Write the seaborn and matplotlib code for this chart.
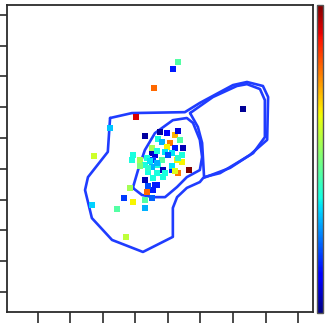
import numpy as np
import pandas as pd
import matplotlib
matplotlib.use("Agg")
import matplotlib.pyplot as plt
import seaborn as sns

# scatter points: x, y and colour value (0..1 on the jet scale)
pt_x = [4.31, 4.15, 3.57, 6.31, 3.02, 2.22, 1.72, 1.66, 2.65, 2.92, 2.43, 2.71,
        3.29, 3.29, 3.51, 2.83, 3.35, 3.54, 3.29, 3.38, 3.60, 4.65, 3.29, 3.75,
        3.97, 4.22, 4.31, 3.69, 3.82, 4.06, 4.37, 4.46, 3.97, 4.22, 3.51, 3.60,
        3.91, 4.12, 4.43, 2.92, 3.14, 3.35, 3.54, 3.82, 4.28, 4.43, 3.29, 3.51,
        3.69, 3.85, 4.12, 4.31, 3.38, 3.66, 3.54, 3.85,
        3.51, 3.66, 4.00, 4.31, 2.89, 3.45, 3.66, 3.14, 3.38, 4.12, 3.91, 4.22,
        3.66]
pt_y = [7.47, 7.24, 6.62, 5.94, 5.68, 5.32, 4.42, 2.82, 3.05, 2.92, 2.69, 1.79,
        2.73, 2.99, 3.05, 3.38, 3.25, 3.31, 3.64, 3.44, 3.47, 3.96, 5.06, 5.19,
        5.16, 5.10, 5.23, 4.97, 4.87, 4.84, 4.94, 4.68, 4.71, 4.68, 4.51, 4.45,
        4.55, 4.51, 4.45, 4.45, 4.29, 4.35, 4.29, 4.29, 4.29, 4.22, 4.12, 4.06,
        4.12, 3.96, 3.96, 3.86, 3.90, 3.86, 3.70, 3.73,
        4.68, 4.58, 4.45, 4.35, 4.29, 4.25, 4.19, 4.09, 4.03, 4.09, 3.86, 3.93,
        3.47]
pt_c = [0.45, 0.15, 0.80, 0.02, 0.92, 0.32, 0.60, 0.33, 0.18, 0.65, 0.45, 0.58,
        0.30, 0.45, 0.22, 0.55, 0.80, 0.15, 0.05, 0.20, 0.15, 1.00, 0.03, 0.03,
        0.12, 0.72, 0.08, 0.38, 0.30, 0.78, 0.45, 0.05, 0.65, 0.15, 0.05, 0.08,
        0.35, 0.35, 0.38, 0.38, 0.55, 0.38, 0.18, 0.45, 0.65, 0.65, 0.38, 0.30,
        0.38, 0.05, 0.15, 0.78, 0.38, 0.38, 0.38, 0.38,
        0.55, 0.38, 0.20, 0.40, 0.38, 0.35, 0.30, 0.50, 0.40, 0.35, 0.38, 0.62,
        0.15]

# density contour outlines
outer_x = [2.22, 2.89, 4.52, 4.98, 6.00, 6.43, 6.92, 7.08, 7.05, 6.52, 5.91, 5.08,
           4.98, 4.58, 4.28, 4.15, 4.15, 3.23, 2.28, 1.66, 1.45, 1.54, 2.15, 2.22]
outer_y = [5.65, 5.81, 5.84, 6.14, 6.72, 6.82, 6.69, 6.33, 4.94, 4.45, 4.03, 3.70,
           3.57, 3.38, 3.08, 2.73, 1.79, 1.30, 1.69, 2.40, 3.31, 3.73, 4.55, 5.65]
core_x = [2.92, 3.08, 3.29, 3.60, 4.15, 4.58, 4.77, 4.98, 5.05, 4.98, 4.58, 4.28,
          3.91, 3.54, 3.20, 2.92]
core_y = [3.38, 3.96, 4.61, 5.16, 5.58, 5.65, 5.49, 4.94, 4.38, 3.96, 3.73, 3.41,
          3.08, 3.08, 3.15, 3.38]
lobe_x = [4.68, 4.92, 5.05, 5.08, 5.11, 5.60, 6.12, 6.62, 6.98, 6.98, 6.83, 6.43,
          6.12, 5.38, 4.68]
lobe_y = [5.81, 5.36, 4.84, 4.29, 3.73, 3.86, 4.19, 4.51, 5.03, 6.23, 6.59, 6.75,
          6.69, 6.33, 5.81]

sns.set_style("ticks")
plt.rcParams.update({
    "axes.edgecolor": "#2b2b2b",
    "axes.linewidth": 1.3,
    "xtick.major.size": 8,
    "ytick.major.size": 8,
    "xtick.color": "#2b2b2b",
    "ytick.color": "#2b2b2b",
})

jet = plt.get_cmap("jet")

fig = plt.figure(figsize=(3.28, 3.24), dpi=100)
ax = fig.add_axes([7 / 328, 12 / 324, 306 / 328, 307 / 324])

line_col = "#1f3cff"
for xs, ys in [(outer_x, outer_y), (core_x, core_y), (lobe_x, lobe_y)]:
    ax.plot(xs, ys, color=line_col, lw=1.9, solid_joinstyle="round")

df = pd.DataFrame({"x": pt_x, "y": pt_y, "c": pt_c})
sns.scatterplot(data=df, x="x", y="y", hue="c", palette=jet, hue_norm=(0, 1),
                marker="s", s=22, linewidth=0, legend=False, ax=ax, zorder=3)

ax.set_xlim(-0.95, 8.46)
ax.set_ylim(-0.65, 9.32)
ax.set_xticks(range(0, 9))
ax.set_yticks(range(0, 10))
ax.tick_params(labelbottom=False, labelleft=False, width=1.2)
ax.set_xlabel("")
ax.set_ylabel("")

cax = fig.add_axes([317 / 328, 11 / 324, 6 / 328, 308 / 324])
sm = plt.cm.ScalarMappable(cmap=jet, norm=plt.Normalize(0, 1))
cb = fig.colorbar(sm, cax=cax)
cb.set_ticks([])
cb.outline.set_edgecolor("#555555")
cb.outline.set_linewidth(1.0)

fig.savefig("out.png", dpi=100)
